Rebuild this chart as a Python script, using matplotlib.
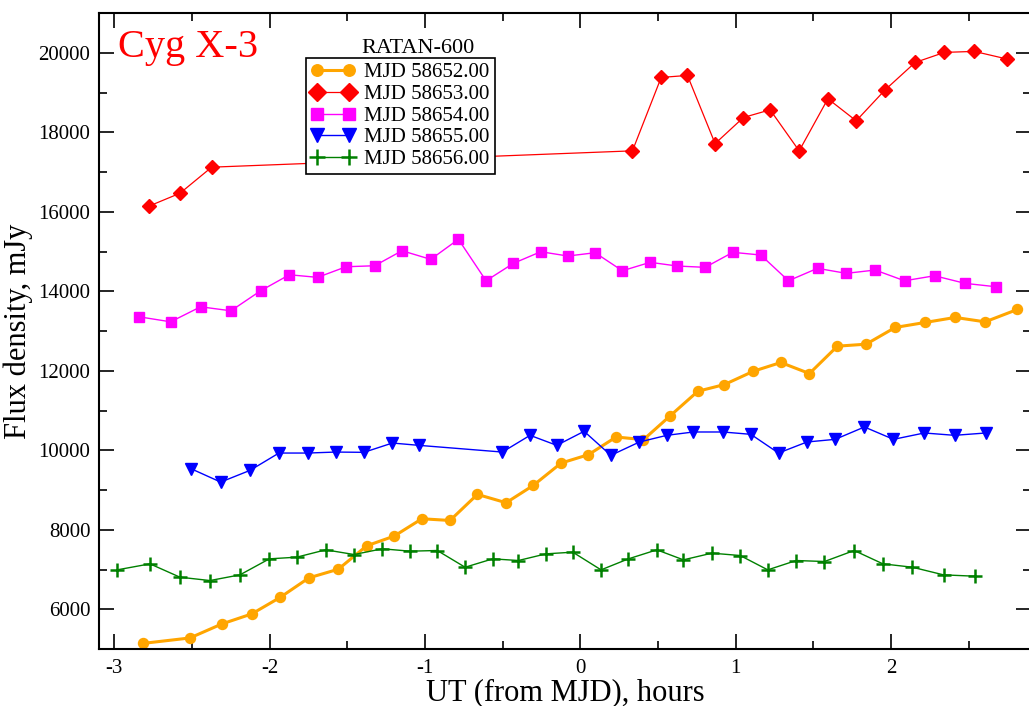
import matplotlib
matplotlib.use("Agg")
import matplotlib.pyplot as plt
from matplotlib.ticker import MultipleLocator

plt.rcParams['font.family'] = ['Liberation Serif', 'DejaVu Serif']
plt.rcParams['axes.unicode_minus'] = False

# --- Data ---
x_52 = [-2.813, -2.513, -2.307, -2.115, -1.931, -1.747, -1.558, -1.375, -1.199, -1.020,
        -0.839, -0.663, -0.478, -0.303, -0.124, 0.052, 0.230, 0.406, 0.577, 0.756,
        0.927, 1.114, 1.290, 1.474, 1.654, 1.839, 2.026, 2.219, 2.412, 2.605, 2.813]
y_52 = [5142, 5278, 5631, 5883, 6302, 6791, 7008, 7598, 7840, 8278,
        8235, 8891, 8681, 9118, 9680, 9891, 10336, 10269, 10866, 11487,
        11656, 11992, 12211, 11933, 12622, 12672, 13093, 13219, 13345, 13234, 13547]

x_53 = [-2.774, -2.577, -2.373, 0.335, 0.520, 0.689, 0.867, 1.049, 1.221, 1.408,
        1.593, 1.775, 1.962, 2.155, 2.343, 2.535, 2.745]
y_53 = [16151, 16471, 17127, 17538, 19386, 19436, 17720, 18377, 18571, 17538,
        18849, 18294, 19076, 19764, 20016, 20041, 19850]

x_54 = [-2.840, -2.637, -2.444, -2.249, -2.058, -1.873, -1.691, -1.508, -1.324, -1.148,
        -0.963, -0.785, -0.607, -0.431, -0.255, -0.081, 0.095, 0.270, 0.449, 0.624,
        0.803, 0.981, 1.161, 1.339, 1.526, 1.711, 1.897, 2.086, 2.279, 2.477, 2.676]
y_54 = [13361, 13235, 13613, 13512, 14016, 14419, 14354, 14621, 14646, 15024,
        14807, 15312, 14268, 14707, 14999, 14891, 14974, 14520, 14732, 14639,
        14606, 14984, 14916, 14268, 14581, 14455, 14538, 14268, 14394, 14202, 14117]

x_55 = [-2.506, -2.315, -2.126, -1.940, -1.755, -1.575, -1.393, -1.210, -1.040,
        -0.502, -0.324, -0.152, 0.024, 0.196, 0.380, 0.556, 0.727, 0.917, 1.097,
        1.275, 1.458, 1.640, 1.828, 2.015, 2.213, 2.408, 2.610]
y_55 = [9538, 9201, 9496, 9932, 9932, 9957, 9950, 10184, 10126,
        9957, 10378, 10126, 10479, 9874, 10210, 10378, 10462, 10462, 10403,
        9932, 10210, 10277, 10588, 10277, 10437, 10378, 10437]

x_56 = [-2.981, -2.770, -2.577, -2.384, -2.191, -2.002, -1.826, -1.639, -1.457, -1.275,
        -1.096, -0.921, -0.742, -0.564, -0.399, -0.221, -0.049, 0.133, 0.309, 0.492,
        0.663, 0.846, 1.028, 1.206, 1.389, 1.571, 1.762, 1.947, 2.137, 2.337, 2.541]
y_56 = [6992, 7143, 6807, 6723, 6866, 7269, 7311, 7496, 7378, 7522,
        7462, 7479, 7058, 7269, 7227, 7395, 7437, 6992, 7269, 7496,
        7244, 7412, 7353, 6992, 7227, 7202, 7479, 7143, 7058, 6866, 6832]

W, H = 1029, 706
fig = plt.figure(figsize=(W / 100, H / 100), dpi=100)
ax = fig.add_axes([98.7 / W, 1 - 649 / H, (1031 - 98.7) / W, (649 - 13.3) / H])

ax.plot(x_52, y_52, color='orange', lw=2.2, marker='o', ms=7.2, label='MJD 58652.00')
ax.plot(x_53, y_53, color='red', lw=0.9, marker='D', ms=7.6, label='MJD 58653.00')
ax.plot(x_54, y_54, color='magenta', lw=1.0, marker='s', ms=7.2, label='MJD 58654.00')
ax.plot(x_55, y_55, color='blue', lw=1.0, marker='v', ms=8.6, label='MJD 58655.00')
ax.plot(x_56, y_56, color='green', lw=1.0, marker='+', ms=9.5, mew=1.8, label='MJD 58656.00')

ax.set_xlim(-3.1, 2.9)
ax.set_ylim(5000, 21000)
ax.xaxis.set_major_locator(MultipleLocator(1))
ax.xaxis.set_minor_locator(MultipleLocator(0.5))
ax.yaxis.set_major_locator(MultipleLocator(2000))
ax.yaxis.set_minor_locator(MultipleLocator(1000))
ax.tick_params(which='both', direction='in', top=True, right=True, width=1.2, labelsize=15)
ax.tick_params(which='major', length=11)
ax.tick_params(which='minor', length=5.8)
ax.tick_params(axis='x', pad=7)
ax.tick_params(axis='y', pad=6)
for s in ax.spines.values():
    s.set_linewidth(1.5)

ax.set_xlabel("UT (from MJD), hours", fontsize=22, labelpad=0)
ax.set_ylabel("Flux density, mJy", fontsize=22, labelpad=4)

ax.text(118 / W, 1 - 57 / H, "Cyg X-3", transform=fig.transFigure, color='red',
        fontsize=29, ha='left', va='baseline')
ax.text(418 / W, 1 - 53 / H, "RATAN-600", transform=fig.transFigure, color='black',
        fontsize=16, ha='center', va='baseline')

leg = ax.legend(loc='upper left', bbox_to_anchor=(306 / W, 1 - 57.7 / H),
                bbox_transform=fig.transFigure, fontsize=15, numpoints=2,
                handlelength=2.1, handletextpad=0.45, labelspacing=0.1,
                borderpad=0.25, borderaxespad=0, fancybox=False, framealpha=1,
                edgecolor='black', markerscale=1.15)
leg.get_frame().set_linewidth(1.2)

fig.savefig("out.png", dpi=100)
